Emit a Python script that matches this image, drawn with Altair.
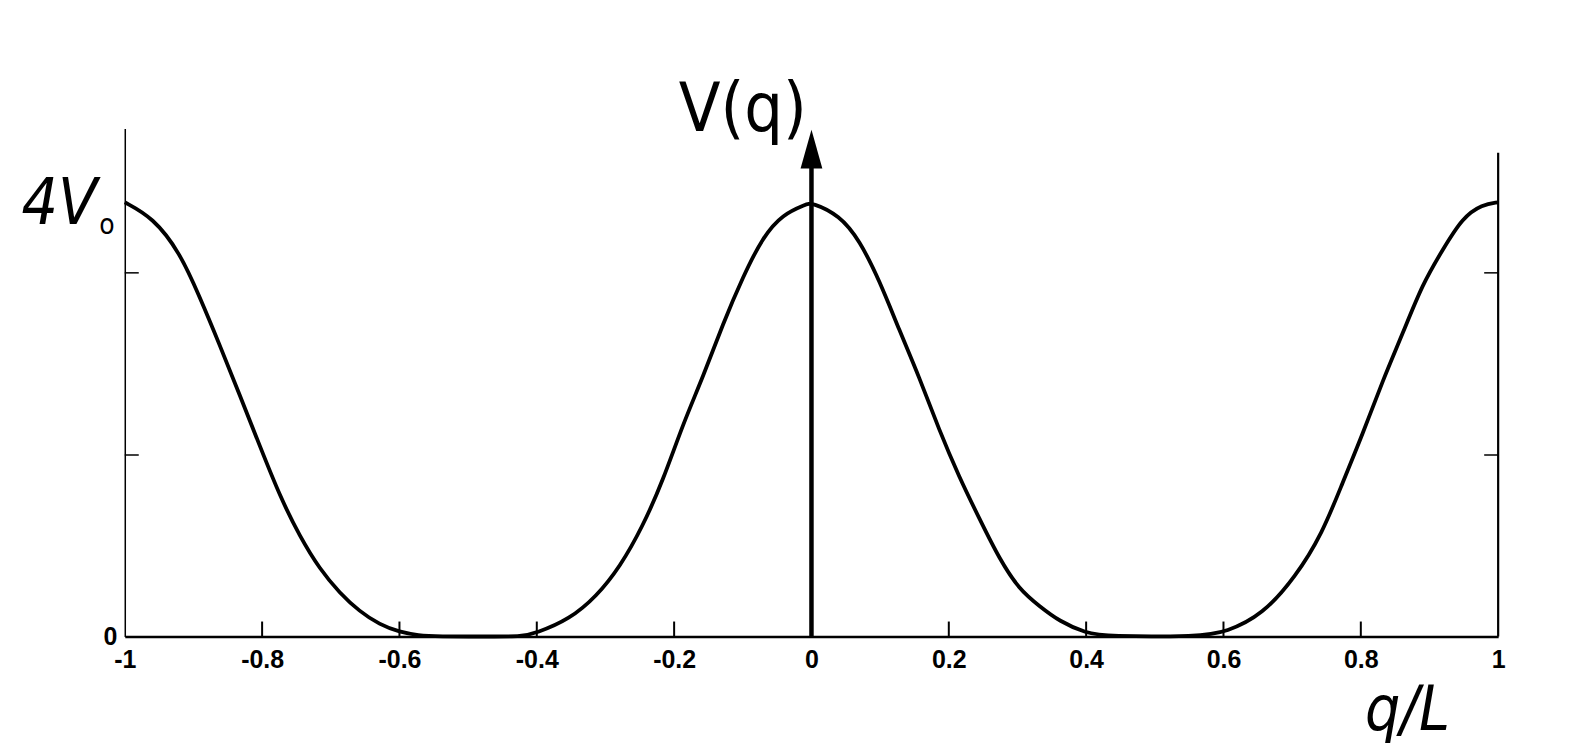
import altair as alt
import pandas as pd

# curve (q/L, V in units of V0; peak = 4 V0)
q_vals = [-1.0, -0.959, -0.92, -0.891, -0.862, -0.833, -0.803, -0.774, -0.745, -0.716,
          -0.687, -0.658, -0.629, -0.6, -0.571, -0.55, -0.45, -0.425, -0.401, -0.352,
          -0.313, -0.279, -0.246, -0.216, -0.187, -0.158, -0.129, -0.1, -0.071, -0.042,
          -0.008, 0.0, 0.041, 0.07, 0.099, 0.128, 0.157, 0.186, 0.215, 0.245,
          0.274, 0.303, 0.332, 0.361, 0.4, 0.43, 0.565, 0.604, 0.657, 0.705,
          0.744, 0.773, 0.803, 0.832, 0.861, 0.89, 0.919, 0.948, 0.977, 1.0]
v_vals = [4.0, 3.86, 3.54, 3.13, 2.69, 2.23, 1.75, 1.29, 0.92, 0.62,
          0.40, 0.23, 0.11, 0.04, 0.01, 0.0, 0.0, 0.0, 0.03, 0.16,
          0.37, 0.64, 1.01, 1.44, 1.96, 2.39, 2.88, 3.31, 3.68, 3.89,
          3.98, 4.0, 3.88, 3.65, 3.28, 2.82, 2.39, 1.90, 1.47, 1.08,
          0.71, 0.43, 0.28, 0.14, 0.03, 0.0, 0.0, 0.04, 0.20, 0.55,
          0.95, 1.41, 1.87, 2.36, 2.79, 3.25, 3.56, 3.86, 3.98, 4.0]

x_tick_values = [-1, -0.8, -0.6, -0.4, -0.2, 0, 0.2, 0.4, 0.6, 0.8, 1]
x_inner_ticks = [-0.8, -0.6, -0.4, -0.2, 0.2, 0.4, 0.6, 0.8]
y_inner_ticks = [1.672, 3.35]
y_labels = [0]
y_top = 4.68
right_frame_top = 4.457
arrow_top = 4.49

W, H = 1376, 509

xs = alt.Scale(domain=[-1, 1], nice=False, zero=False)
ys = alt.Scale(domain=[0, y_top], nice=False, zero=False)

xaxis = alt.Axis(values=x_tick_values, ticks=False, grid=False, title=None,
                 domainColor="black", domainWidth=2.5, format=".1~f",
                 labelExpr="replace(datum.label, '\u2212', '-')",
                 labelPadding=11, labelOverlap=False, labelFlush=False)
yaxis = alt.Axis(values=y_labels, ticks=False, grid=False, title=None,
                 domainColor="black", domainWidth=1.5, format="d", labelPadding=8)

df = pd.DataFrame({"q": q_vals, "v": v_vals})

curve = alt.Chart(df).mark_line(color="black", strokeWidth=3.8, interpolate="basis").encode(
    x=alt.X("q:Q", scale=xs, axis=xaxis),
    y=alt.Y("v:Q", scale=ys, axis=yaxis),
)

# inward ticks on bottom axis
xt = alt.Chart(pd.DataFrame({"t": x_inner_ticks})).mark_rule(color="black", strokeWidth=2).encode(
    x=alt.X("t:Q", scale=xs, axis=xaxis),
    y=alt.value(H), y2=alt.value(H - 15),
)
# inward ticks on left and right sides
ylt = alt.Chart(pd.DataFrame({"t": y_inner_ticks})).mark_rule(color="black", strokeWidth=1.5).encode(
    y=alt.Y("t:Q", scale=ys, axis=yaxis),
    x=alt.value(0), x2=alt.value(14),
)
yrt = alt.Chart(pd.DataFrame({"t": y_inner_ticks})).mark_rule(color="black", strokeWidth=1.5).encode(
    y=alt.Y("t:Q", scale=ys, axis=yaxis),
    x=alt.value(W - 14), x2=alt.value(W),
)
# right frame line
frame = alt.Chart(pd.DataFrame({"x": [1], "y": [0], "y2": [right_frame_top]})).mark_rule(
    color="black", strokeWidth=2.2).encode(
    x=alt.X("x:Q", scale=xs, axis=xaxis),
    y=alt.Y("y:Q", scale=ys, axis=yaxis), y2="y2:Q",
)
# vertical arrow at q = 0
shaft = alt.Chart(pd.DataFrame({"x": [0], "y": [0], "y2": [arrow_top - 0.05]})).mark_rule(
    color="black", strokeWidth=4.5).encode(
    x=alt.X("x:Q", scale=xs, axis=xaxis),
    y=alt.Y("y:Q", scale=ys, axis=yaxis), y2="y2:Q",
)
head = alt.Chart(pd.DataFrame({"x": [0], "y": [arrow_top]})).mark_point(
    shape="M0,-1L0.56,1L-0.56,1Z", filled=True, size=1521, color="black", opacity=1).encode(
    x=alt.X("x:Q", scale=xs, axis=xaxis),
    y=alt.Y("y:Q", scale=ys, axis=yaxis),
)

hand = "Liberation Sans Narrow, DejaVu Sans Condensed, Liberation Sans"

vq = alt.Chart(pd.DataFrame({"x": [-0.1], "y": [4.66], "t": ["V(q)"]})).mark_text(
    font=hand, fontSize=68, align="center", baseline="alphabetic", color="black").encode(
    x=alt.X("x:Q", scale=xs, axis=xaxis), y=alt.Y("y:Q", scale=ys, axis=yaxis), text="t:N")

fourv = alt.Chart(pd.DataFrame({"x": [-1.04], "y": [3.8], "t": ["4V"]})).mark_text(
    font=hand, fontSize=64, fontStyle="italic", align="right", baseline="alphabetic", color="black").encode(
    x=alt.X("x:Q", scale=xs, axis=xaxis), y=alt.Y("y:Q", scale=ys, axis=yaxis), text="t:N")
sub = alt.Chart(pd.DataFrame({"x": [-1.026], "y": [3.71], "t": ["o"]})).mark_text(
    font=hand, fontSize=28, align="center", baseline="alphabetic", color="black").encode(
    x=alt.X("x:Q", scale=xs, axis=xaxis), y=alt.Y("y:Q", scale=ys, axis=yaxis), text="t:N")

ql = alt.Chart(pd.DataFrame({"x": [0.868], "y": [-0.86], "t": ["q/L"]})).mark_text(
    font=hand, fontSize=62, fontStyle="italic", align="center", baseline="alphabetic", color="black").encode(
    x=alt.X("x:Q", scale=xs, axis=xaxis), y=alt.Y("y:Q", scale=ys, axis=yaxis), text="t:N")

chart = alt.layer(curve, xt, ylt, yrt, frame, shaft, head, vq, fourv, sub, ql).properties(
    width=W, height=H,
    autosize=alt.AutoSizeParams(type="none"),
    padding={"left": 117, "top": 120, "right": 81, "bottom": 107},
    background="white",
).configure_view(stroke=None).configure_axis(
    labelFont="Liberation Sans", labelFontSize=25, labelFontWeight="bold", labelColor="black"
)

chart.save("out.html", embed_options={"renderer": "svg", "actions": False})
